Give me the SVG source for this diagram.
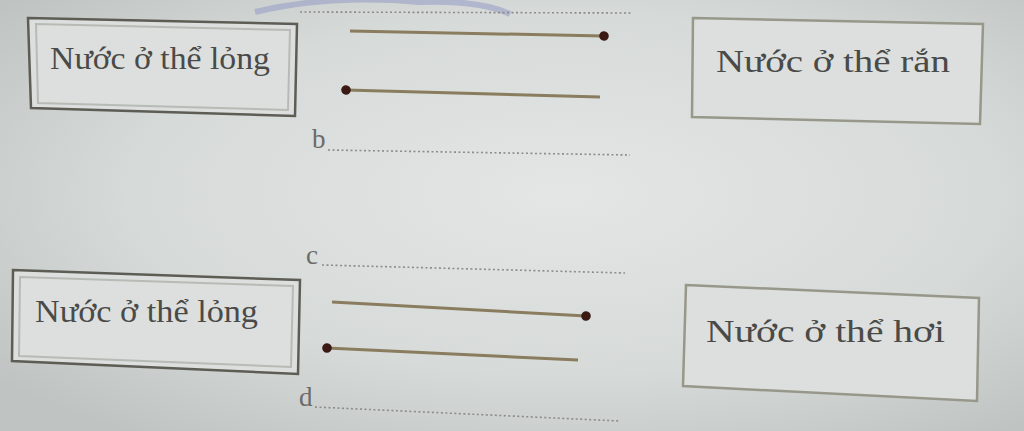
<svg xmlns="http://www.w3.org/2000/svg" width="1024" height="431" viewBox="0 0 1024 431">
<defs>
<radialGradient id="bg" cx="0.55" cy="0.45" r="0.7">
<stop offset="0" stop-color="#e3e6e5"/>
<stop offset="0.6" stop-color="#d6dad9"/>
<stop offset="1" stop-color="#bfc3c2"/>
</radialGradient>
<marker id="dot" viewBox="0 0 10 10" refX="5" refY="5" markerWidth="3.2" markerHeight="3.2" orient="auto" markerUnits="strokeWidth">
<circle cx="5" cy="5" r="5" fill="#3a1a12"/>
</marker>
<style>
.box{fill:#dcdfdd;stroke-width:2.5}
.dark{stroke:#5d5d55}
.light{stroke:#97978a}
.t{font-family:"Liberation Serif","DejaVu Serif",serif;font-size:31px;fill:#4a4a48}
.lab{font-family:"Liberation Serif","DejaVu Serif",serif;font-size:27px;fill:#6a6a68}
.dots{stroke:#8c8c88;stroke-width:1.6;stroke-dasharray:2 2.5;fill:none}
.arr{stroke:#8a7c5e;stroke-width:3;fill:none;marker-end:url(#dot)}
</style>
</defs>
<rect width="1024" height="431" fill="url(#bg)"/>
<path d="M255,12 Q330,-6 420,2 Q480,0 510,14" fill="none" stroke="#9aa0c6" stroke-width="6" opacity="0.6"/>
<g id="node-liquid-top">
<path class="box dark" d="M28,18 L297,24 L295,116 L31,108 Z"/>
<path d="M36,24 L290,30 L288,110 L38,103 Z" fill="none" stroke="#b8bab6" stroke-width="2"/>
<text class="t" x="50" y="69" textLength="220" lengthAdjust="spacingAndGlyphs">Nước ở thể lỏng</text>
</g>
<g id="node-solid">
<path class="box light" d="M693,18 L983,24 L980,124 L692,117 Z"/>
<text class="t" x="716" y="72" textLength="234" lengthAdjust="spacingAndGlyphs">Nước ở thể rắn</text>
</g>
<g id="node-liquid-bottom">
<path class="box dark" d="M13,270 L300,280 L298,374 L12,361 Z"/>
<path d="M20,277 L293,286 L291,367 L19,356 Z" fill="none" stroke="#b8bab6" stroke-width="2"/>
<text class="t" x="35" y="322" textLength="223" lengthAdjust="spacingAndGlyphs">Nước ở thể lỏng</text>
</g>
<g id="node-vapor">
<path class="box light" d="M686,285 L979,298 L977,401 L683,386 Z"/>
<text class="t" x="706" y="342" textLength="239" lengthAdjust="spacingAndGlyphs">Nước ở thể hơi</text>
</g>
<g id="connectors">
<line class="arr" x1="350" y1="31" x2="604" y2="36"/>
<line class="arr" x1="600" y1="97" x2="346" y2="90"/>
<line class="arr" x1="332" y1="302" x2="586" y2="316"/>
<line class="arr" x1="578" y1="360" x2="327" y2="348"/>
</g>
<g id="answer-lines">
<line class="dots" x1="300" y1="12" x2="632" y2="13"/>
<text class="lab" x="312" y="148">b</text>
<line class="dots" x1="328" y1="150" x2="630" y2="155"/>
<text class="lab" x="306" y="264">c</text>
<line class="dots" x1="322" y1="265" x2="625" y2="273"/>
<text class="lab" x="299" y="406">d</text>
<line class="dots" x1="315" y1="407" x2="620" y2="421"/>
</g>
</svg>
